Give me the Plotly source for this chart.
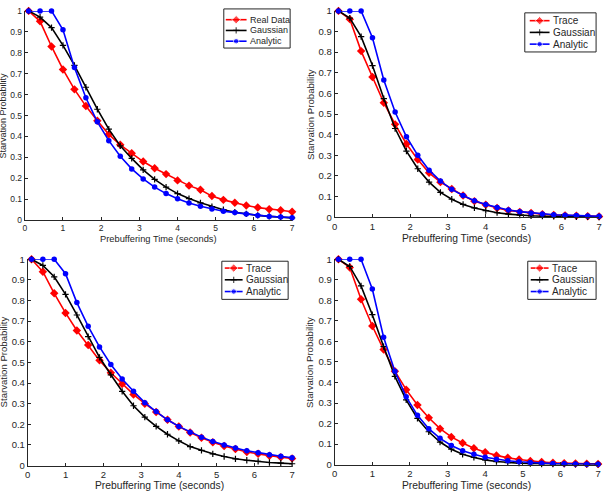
import plotly.graph_objects as go

# Prebuffering times (seconds)
t = [0.1, 0.4, 0.7, 1.0, 1.3, 1.6, 1.9, 2.2, 2.5, 2.8, 3.1, 3.4, 3.7, 4.0,
     4.3, 4.6, 4.9, 5.2, 5.5, 5.8, 6.1, 6.4, 6.7, 7.0]

# Panel 1 (top-left)
p1_real = [1.0, 0.95, 0.83, 0.72, 0.625, 0.545, 0.475, 0.41, 0.36, 0.32, 0.28, 0.248,
           0.22, 0.19, 0.165, 0.145, 0.115, 0.097, 0.083, 0.07, 0.06, 0.052, 0.047, 0.04]
p1_gauss = [1.0, 0.97, 0.92, 0.835, 0.74, 0.635, 0.53, 0.435, 0.355, 0.295, 0.24, 0.195,
            0.158, 0.127, 0.103, 0.083, 0.065, 0.05, 0.038, 0.03, 0.023, 0.018, 0.014, 0.011]
p1_anal = [1.0, 1.0, 1.0, 0.91, 0.73, 0.585, 0.47, 0.38, 0.305, 0.245, 0.197, 0.158,
           0.127, 0.102, 0.082, 0.066, 0.053, 0.043, 0.036, 0.03, 0.022, 0.018, 0.015, 0.012]

# Panel 2 (top-right)
p2_trace = [1.0, 0.96, 0.805, 0.68, 0.555, 0.45, 0.355, 0.28, 0.215, 0.17, 0.137, 0.105,
            0.078, 0.06, 0.045, 0.033, 0.026, 0.02, 0.015, 0.011, 0.009, 0.007, 0.005, 0.004]
p2_gauss = [1.0, 0.965, 0.875, 0.735, 0.575, 0.43, 0.32, 0.235, 0.17, 0.12, 0.087, 0.062,
            0.045, 0.032, 0.022, 0.015, 0.01, 0.007, 0.005, 0.004, 0.003, 0.002, 0.002, 0.001]
p2_anal = [1.0, 1.0, 1.0, 0.87, 0.665, 0.51, 0.39, 0.3, 0.228, 0.175, 0.135, 0.105,
           0.08, 0.062, 0.047, 0.035, 0.027, 0.021, 0.016, 0.012, 0.01, 0.008, 0.006, 0.005]

# Panel 3 (bottom-left)
p3_trace = [1.0, 0.94, 0.835, 0.74, 0.655, 0.585, 0.51, 0.45, 0.395, 0.345, 0.3, 0.26,
            0.222, 0.19, 0.16, 0.135, 0.113, 0.095, 0.08, 0.066, 0.057, 0.048, 0.041, 0.035]
p3_gauss = [1.0, 0.97, 0.915, 0.83, 0.73, 0.625, 0.525, 0.44, 0.36, 0.29, 0.235, 0.19,
            0.152, 0.12, 0.092, 0.074, 0.057, 0.044, 0.033, 0.026, 0.02, 0.015, 0.012, 0.009]
p3_anal = [1.0, 1.0, 1.0, 0.93, 0.79, 0.675, 0.575, 0.49, 0.42, 0.36, 0.305, 0.262,
           0.222, 0.19, 0.162, 0.138, 0.117, 0.1, 0.085, 0.072, 0.062, 0.053, 0.045, 0.038]

# Panel 4 (bottom-right)
p4_trace = [1.0, 0.96, 0.805, 0.675, 0.56, 0.455, 0.365, 0.29, 0.228, 0.175, 0.135, 0.105,
            0.08, 0.06, 0.045, 0.033, 0.025, 0.018, 0.013, 0.009, 0.007, 0.005, 0.004, 0.003]
p4_gauss = [1.0, 0.965, 0.87, 0.73, 0.575, 0.43, 0.315, 0.225, 0.16, 0.11, 0.075, 0.05,
            0.035, 0.023, 0.015, 0.01, 0.007, 0.005, 0.003, 0.002, 0.002, 0.001, 0.001, 0.001]
p4_anal = [1.0, 1.0, 1.0, 0.855, 0.62, 0.455, 0.33, 0.24, 0.175, 0.128, 0.093, 0.068,
           0.05, 0.036, 0.026, 0.019, 0.014, 0.01, 0.007, 0.005, 0.004, 0.003, 0.002, 0.002]

x_ticks = [0, 1, 2, 3, 4, 5, 6, 7]
y_ticks = [0, 0.1, 0.2, 0.3, 0.4, 0.5, 0.6, 0.7, 0.8, 0.9, 1]
y_tick_text = ["0", "0.1", "0.2", "0.3", "0.4", "0.5", "0.6", "0.7", "0.8", "0.9", "1"]
x_title = "Prebuffering Time (seconds)"
y_title = "Starvation Probability"
series_names = ["Gaussian", "Analytic"]

panels = [
    ("Real Data", p1_real, p1_gauss, p1_anal),
    ("Trace", p2_trace, p2_gauss, p2_anal),
    ("Trace", p3_trace, p3_gauss, p3_anal),
    ("Trace", p4_trace, p4_gauss, p4_anal),
]

W, H = 607, 497
# pixel boxes: (x0, x1, ytop, ybottom)
boxes = [(22, 292, 5, 219), (335, 602, 5, 216), (25, 292, 259, 470), (335, 601, 259, 469)]
# legend boxes: (x0, x1, y0, y1), rows y, sample x0, x1
leg_boxes = [(223, 290, 3, 43), (527, 599, 7, 47), (221, 288, 261, 300), (530, 599, 261, 300)]
leg_rows = [(14, 25, 36), (15, 27, 39), (268, 280, 292), (268, 280, 292)]
leg_sample = [(225, 246), (532, 552), (224, 242), (533, 551)]
leg_font = [9, 10, 10, 10]
xtitle_y = [238, 238, 490, 490]
ytitle_x = [0, 310, 0, 310]
xtitle_sizes = [9.3, 10.3, 10.3, 10.3]
ytitle_sizes = [9.0, 9.6, 9.6, 9.6]
tick_sizes = [8.5, 9.5, 9.5, 9.5]

FONT = "Liberation Sans, Arial, sans-serif"
TXT = "#262626"
colors = ["#ff0000", "#000000", "#0000ff"]
symbols = ["diamond", "cross-thin", "circle"]
msizes = [6.5, 4.5, 5.5]

fig = go.Figure()


def marker_for(j, size):
    if symbols[j] == "cross-thin":
        return dict(symbol="cross-thin", size=size, color=colors[j],
                    line=dict(color=colors[j], width=1.2))
    return dict(symbol=symbols[j], size=size, color=colors[j])


for i, (name1, s1, s2, s3) in enumerate(panels):
    k = "" if i == 0 else str(i + 1)
    xa, ya = "x" + k, "y" + k
    for j, (nm, ys) in enumerate([(name1, s1), (series_names[0], s2), (series_names[1], s3)]):
        fig.add_trace(go.Scatter(x=t, y=ys, name=nm, mode="lines+markers", xaxis=xa, yaxis=ya,
                                 showlegend=False, cliponaxis=False,
                                 line=dict(color=colors[j], width=1.6),
                                 marker=marker_for(j, msizes[j])))

# Legend samples on a full-figure overlay axis in pixel units
annotations = []
shapes = []
for i, (name1, _, _, _) in enumerate(panels):
    names = [name1] + series_names
    sx0, sx1 = leg_sample[i]
    for j in range(3):
        ry = leg_rows[i][j]
        fig.add_trace(go.Scatter(x=[sx0, (sx0 + sx1) / 2, sx1], y=[ry, ry, ry], mode="lines+markers",
                                 xaxis="x5", yaxis="y5", showlegend=False, hoverinfo="skip",
                                 line=dict(color=colors[j], width=1.6),
                                 marker=dict(marker_for(j, msizes[j]),
                                             size=[0, msizes[j], 0])))
        annotations.append(dict(text=names[j], xref="paper", yref="paper",
                                x=(sx1 + 1) / W, y=1 - ry / H, xanchor="left", yanchor="middle",
                                showarrow=False,
                                font=dict(family=FONT, size=leg_font[i], color=TXT)))
    bx0, bx1, by0, by1 = leg_boxes[i]
    shapes.append(dict(type="rect", xref="paper", yref="paper", layer="above",
                       x0=bx0 / W, x1=bx1 / W, y0=1 - by0 / H, y1=1 - by1 / H,
                       line=dict(color=TXT, width=1), fillcolor="rgba(0,0,0,0)"))

layout = dict(width=W, height=H, margin=dict(l=0, r=0, t=0, b=0),
              paper_bgcolor="white", plot_bgcolor="rgba(0,0,0,0)", showlegend=False,
              font=dict(family=FONT, size=9, color=TXT))
for i in range(4):
    k = "" if i == 0 else str(i + 1)
    x0, x1, yt, yb = boxes[i]
    axcommon = dict(showgrid=False, zeroline=False, showline=True, linecolor=TXT,
                    linewidth=1, ticks="inside", ticklen=3, tickcolor=TXT,
                    tickfont=dict(family=FONT, size=tick_sizes[i], color=TXT), mirror=False)
    layout["xaxis" + k] = dict(domain=[x0 / W, x1 / W], range=[0, 7], tickvals=x_ticks,
                               anchor="y" + k, **axcommon)
    layout["yaxis" + k] = dict(domain=[1 - yb / H, 1 - yt / H], range=[0, 1], tickvals=y_ticks,
                               ticktext=y_tick_text, anchor="x" + k, **axcommon)
    annotations.append(dict(text=x_title, xref="paper", yref="paper",
                            x=(x0 + x1) / 2 / W, y=1 - xtitle_y[i] / H, xanchor="center",
                            yanchor="middle", showarrow=False,
                            font=dict(family=FONT, size=xtitle_sizes[i], color=TXT)))
    annotations.append(dict(text=y_title, xref="paper", yref="paper", textangle=-90,
                            x=ytitle_x[i] / W, y=1 - (yt + yb) / 2 / H, xanchor="center",
                            yanchor="middle", showarrow=False,
                            font=dict(family=FONT, size=ytitle_sizes[i], color=TXT)))
layout["xaxis5"] = dict(domain=[0, 1], range=[0, W], visible=False, anchor="y5", fixedrange=True)
layout["yaxis5"] = dict(domain=[0, 1], range=[H, 0], visible=False, anchor="x5", fixedrange=True)
layout["annotations"] = annotations
layout["shapes"] = shapes
fig.update_layout(**layout)
fig.write_html("out.html")
